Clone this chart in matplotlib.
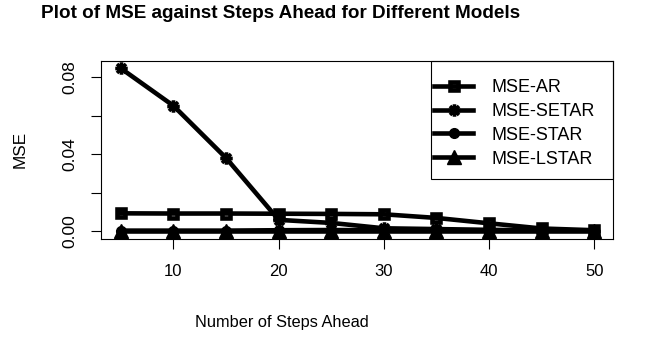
import matplotlib
matplotlib.use("Agg")
import matplotlib.pyplot as plt
from matplotlib.path import Path
from matplotlib.patches import Rectangle
import numpy as np

plt.rcParams['font.family'] = ['Liberation Sans', 'DejaVu Sans']

steps = [5, 10, 15, 20, 25, 30, 35, 40, 45, 50]
mse_ar = [0.0092, 0.0091, 0.0091, 0.0090, 0.0089, 0.0087, 0.0068, 0.0040, 0.0013, 0.0004]
mse_setar = [0.0847, 0.0652, 0.0380, 0.0058, 0.0042, 0.0014, 0.0010, 0.0006, 0.0003, 0.0002]
mse_star = [0.0002, 0.0002, 0.0002, 0.0004, 0.0005, 0.0004, 0.0004, 0.0003, 0.0002, 0.0002]
mse_lstar = [0.0, 0.0, 0.0, 0.0, 0.0, 0.0, 0.0, 0.0, 0.0, 0.0]
labels = ['MSE-AR', 'MSE-SETAR', 'MSE-STAR', 'MSE-LSTAR']
xticks = [10, 20, 30, 40, 50]
yticks = [0.00, 0.02, 0.04, 0.06, 0.08]
ytick_labels = ['0.00', '', '0.04', '', '0.08']

W, H = 661, 342
fig = plt.figure(figsize=(W / 100, H / 100), dpi=100)
L, R, T, B = 100.7, 612.7, 60.7, 239.0
ax = fig.add_axes([L / W, 1 - B / H, (R - L) / W, (B - T) / H])

# asterisk marker (R pch=8)
d = 0.72
ast_verts = [(-1, 0), (1, 0), (0, -1), (0, 1), (-d, -d), (d, d), (-d, d), (d, -d)]
ast_codes = [Path.MOVETO, Path.LINETO] * 4
ast = Path(ast_verts, ast_codes)

lw = 3.3
h1, = ax.plot(steps, mse_ar, color='black', lw=lw, marker='s', ms=5.8,
              mfc='none', mec='black', mew=lw)
h2, = ax.plot(steps, mse_setar, color='black', lw=lw, marker=ast, ms=9,
              mfc='none', mec='black', mew=2.6)
h3, = ax.plot(steps, mse_star, color='black', lw=lw, marker='o', ms=7,
              mfc='black', mec='black', mew=1)
h4, = ax.plot(steps, mse_lstar, color='black', lw=lw, marker='^', ms=9.5,
              mfc='black', mec='black', mew=1)

ax.set_xlim(3.08, 51.75)
ax.set_ylim(-0.00417, 0.0887)
ax.set_xticks(xticks)
ax.set_xticklabels([str(v) for v in xticks], fontsize=12)
ax.set_yticks(yticks)
ax.set_yticklabels(ytick_labels, fontsize=12.5, rotation=90, va='center')
ax.tick_params(axis='both', length=7.2, width=0.8, color='black')
ax.tick_params(axis='x', pad=10.5)
ax.tick_params(axis='y', pad=9.5)
for s in ax.spines.values():
    s.set_linewidth(0.8)
    s.set_color('black')

fig.text(281 / W, 1 - 18.3 / H, 'Plot of MSE against Steps Ahead for Different Models',
         ha='center', va='baseline', fontsize=13.6, fontweight='bold')
fig.text(281.5 / W, 1 - 327.3 / H, 'Number of Steps Ahead', ha='center', va='baseline',
         fontsize=11.8)
fig.text(20 / W, 1 - 149.5 / H, 'MSE', ha='center', va='center', rotation=90, fontsize=12.3)

# legend frame
lx0, ly0, lx1, ly1 = 431, 60.7, 612.7, 179.3
rect = Rectangle((lx0 / W, 1 - ly1 / H), (lx1 - lx0) / W, (ly1 - ly0) / H,
                 transform=fig.transFigure, fill=False, lw=0.8, ec='black', zorder=5)
fig.patches.append(rect)
fs_px = 13 * 100 / 72
leg = ax.legend([h1, h2, h3, h4], labels, loc='upper left',
                bbox_to_anchor=(434 / W, 1 - 79 / H), bbox_transform=fig.transFigure,
                frameon=False, borderpad=0, borderaxespad=0, numpoints=1,
                handlelength=39 / fs_px, handletextpad=18.7 / fs_px,
                labelspacing=0.38, fontsize=13)

fig.savefig('out.png', dpi=100)
